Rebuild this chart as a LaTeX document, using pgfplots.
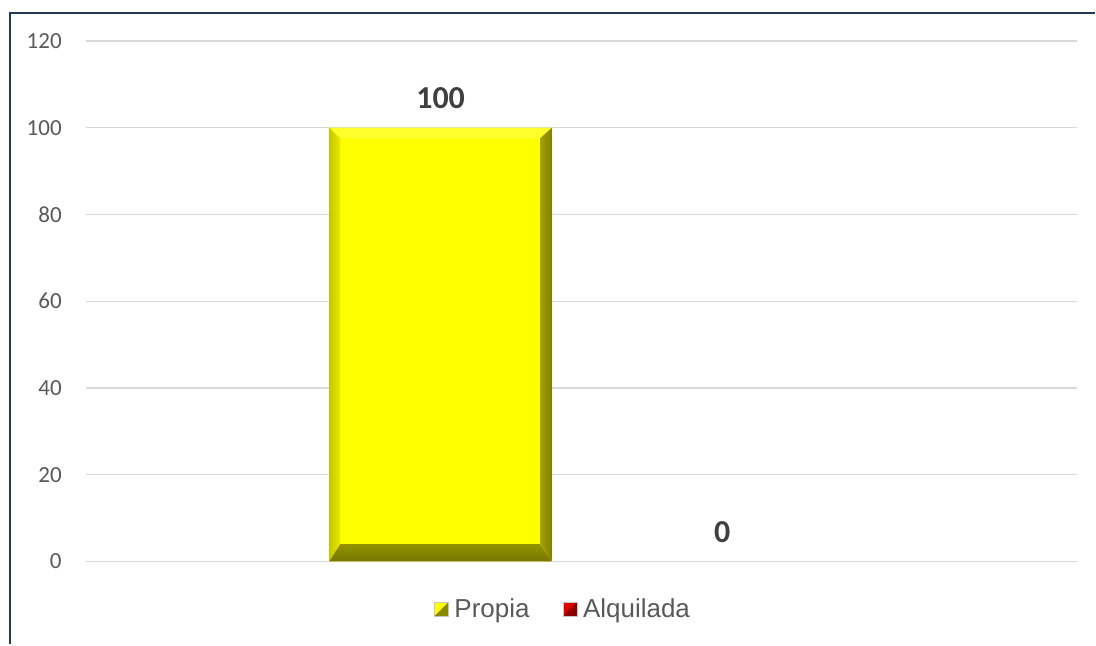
\documentclass[border=0pt]{standalone}
\usepackage{pgfplots}
\pgfplotsset{compat=1.18}
\usepackage{fontspec}
\setmainfont{Carlito}
\newfontfamily\legendfont{Liberation Sans}

\definecolor{gridgray}{HTML}{D9D9D9}
\definecolor{labelgray}{HTML}{595959}
\definecolor{valgray}{HTML}{404040}
\definecolor{framenavy}{HTML}{223A58}
\definecolor{propiaface}{HTML}{FFFF00}
\definecolor{propiatop}{HTML}{FFFF2E}
\definecolor{propiadark}{HTML}{8A8A00}
\definecolor{alqface}{HTML}{E00000}
\definecolor{alqdark}{HTML}{8C0000}

% bevelled look for a bar: four trapezoid faces inside the bar outline;
% the flag keeps the inner paths from bevelling themselves, and empty
% paths (huge bounding box) are skipped
\newif\ifbevelbusy
\makeatletter
\newcommand\bevelcheck{%
  \pgfpointanchor{path picture bounding box}{south west}%
  \ifdim\pgf@x>8000pt \bevelbusytrue\fi
  \ifdim\pgf@x<-8000pt \bevelbusytrue\fi}
\makeatother
\tikzset{bevelbar/.style={path picture={%
  \ifbevelbusy\else\bevelcheck\fi
  \ifbevelbusy\else
  \bevelbusytrue
  \coordinate (bsw) at (path picture bounding box.south west);
  \coordinate (bne) at (path picture bounding box.north east);
  \coordinate (bse) at (path picture bounding box.south east);
  \coordinate (bnw) at (path picture bounding box.north west);
  \fill[propiatop] (bnw) -- (bne) -- ([shift={(-9pt,-8pt)}]bne) -- ([shift={(8.25pt,-8pt)}]bnw) -- cycle;
  \shade[left color=black!22!propiaface, right color=black!8!propiaface]
    (bnw) -- ([shift={(8.25pt,-8pt)}]bnw) -- ([shift={(8.25pt,13pt)}]bsw) -- (bsw) -- cycle;
  \shade[left color=black!36!propiaface, right color=black!50!propiaface]
    (bne) -- ([shift={(-9pt,-8pt)}]bne) -- ([shift={(-9pt,13pt)}]bse) -- (bse) -- cycle;
  \shade[top color=black!42!propiaface, bottom color=black!54!propiaface]
    (bsw) -- ([shift={(8.25pt,13pt)}]bsw) -- ([shift={(-9pt,13pt)}]bse) -- (bse) -- cycle;
  \fi}}}

\begin{document}
\begin{tikzpicture}
% page area and chart frame
\path (0pt,0pt) rectangle (822pt,483.75pt);
\draw[framenavy, line width=1.5pt] (7.5pt,0pt) -- (7.5pt,473.8pt) -- (822pt,473.8pt);

\begin{axis}[
  at={(64.5pt,62.25pt)}, anchor=south west,
  width=744pt, height=390.75pt, scale only axis,
  xmin=0, xmax=1, ymin=0, ymax=120,
  xtick=\empty, ytick={0,20,...,120},
  axis line style={draw=none},
  major tick length=0pt,
  ymajorgrids,
  grid style={draw=gridgray, line width=1pt},
  /pgf/number format/assume math mode=true,
  yticklabel style={font=\fontsize{17.3}{19}\selectfont, text=labelgray,
    anchor=east, inner sep=0pt, xshift=-18pt},
  ybar, bar width=167.25pt,
  every node near coord/.append style={
    font=\fontsize{24}{27}\selectfont\bfseries,
    text=valgray, anchor=base, yshift=14.5pt},
  legend columns=2,
  legend style={at={(0.4803,-0.092)}, anchor=center, draw=none, fill=none,
    font=\legendfont\fontsize{19.5}{22}\selectfont, text=labelgray,
    nodes={inner xsep=0pt, inner ysep=2pt},
    column sep=4.5pt,
    /tikz/every even column/.append style={column sep=24.75pt}},
  clip=false,
]
% Propia
\addplot[fill=propiaface, draw=none, bar shift=-105.75pt, bevelbar,
  legend image code/.code={
    \bevelbusytrue
    \fill[fill=propiaface] (0pt,-5.25pt) rectangle (10.5pt,5.25pt);
    \fill[fill=propiadark] (0pt,-5.25pt) -- (10.5pt,-5.25pt) -- (10.5pt,5.25pt) -- cycle;
    \path[draw=gray!45, fill=none, line width=0.4pt] (0pt,-5.25pt) rectangle (10.5pt,5.25pt);
  }] coordinates {(0.5,100)};
% Alquilada
\addplot[fill=none, draw=none, bar shift=105.75pt, nodes near coords,
  legend image code/.code={
    \fill[fill=alqface] (0pt,-5.25pt) rectangle (10.5pt,5.25pt);
    \fill[fill=alqdark] (0pt,-5.25pt) -- (10.5pt,-5.25pt) -- (10.5pt,5.25pt) -- cycle;
    \path[draw=gray!45, fill=none, line width=0.4pt] (0pt,-5.25pt) rectangle (10.5pt,5.25pt);
  }] coordinates {(0.5,0)};
% value label of Propia
\addplot[forget plot, draw=none, fill=none, bar shift=-105.75pt, nodes near coords]
  coordinates {(0.5,100)};
\legend{Propia, Alquilada}
\end{axis}
\end{tikzpicture}
\end{document}
